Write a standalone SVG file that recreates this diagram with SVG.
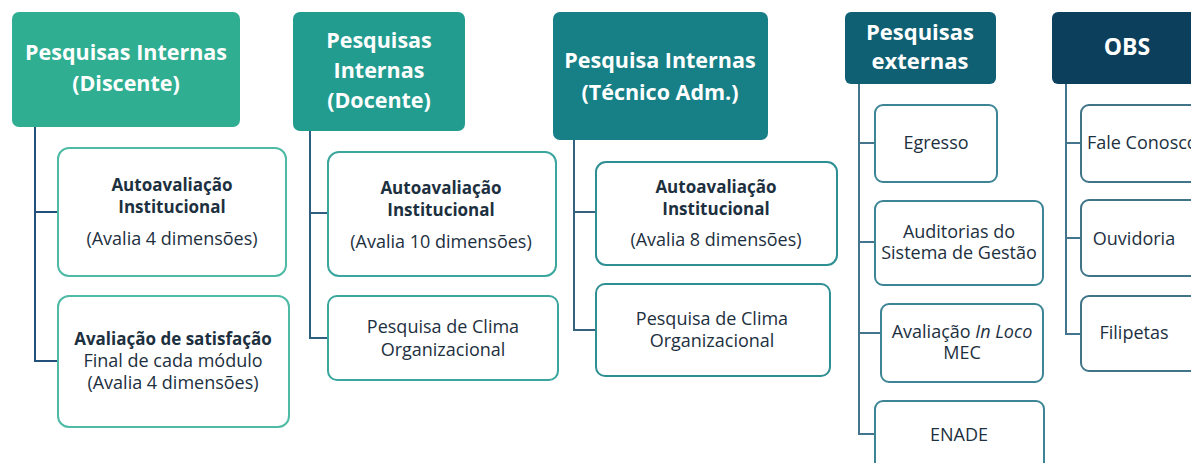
<svg xmlns="http://www.w3.org/2000/svg" width="1191" height="463" viewBox="0 0 1191 463">
<style>
.hd{font-family:"Open Sans","Noto Sans",sans-serif;font-weight:bold;fill:#ffffff;text-anchor:middle}
.t{font-family:"Open Sans","Noto Sans",sans-serif;font-size:18px;fill:#1d3040;text-anchor:middle}
.b{font-weight:bold;font-size:17px}
.box{fill:#ffffff;stroke-width:2}
.g1{stroke:#4fbaa6}
.g2{stroke:#3aa69e}
.g3{stroke:#2e8f93}
.g4{stroke:#3d8595}
.g5{stroke:#3f7489}
.ln{fill:none;stroke-width:2}
</style>
<rect width="1191" height="463" fill="#ffffff"/>
<g id="connectors">
<path class="ln" stroke="#23507a" d="M35 127 V361 H58 M35 212 H58"/>
<path class="ln" stroke="#2f5f80" d="M310 131 V338 H328 M310 213 H328"/>
<path class="ln" stroke="#35637f" d="M574 140 V330 H596 M574 212 H596"/>
<path class="ln" stroke="#45758c" d="M859 84 V434 H875 M859 143 H875 M859 242 H875 M859 333 H881"/>
<path class="ln" stroke="#45758c" d="M1066 84 V334 H1081 M1066 143 H1081 M1066 238 H1081"/>
</g>
<g id="h1"><rect x="12" y="12" width="228" height="115" rx="7" fill="#2fae92"/>
<text class="hd" font-size="21.5" x="126" y="60">Pesquisas Internas</text>
<text class="hd" font-size="21.5" x="126" y="91">(Discente)</text></g>
<g id="h2"><rect x="293" y="12" width="172" height="119" rx="7" fill="#239c90"/>
<text class="hd" font-size="21.5" x="379" y="48">Pesquisas</text>
<text class="hd" font-size="21.5" x="379" y="78">Internas</text>
<text class="hd" font-size="21.5" x="379" y="108">(Docente)</text></g>
<g id="h3"><rect x="553" y="12" width="215" height="128" rx="7" fill="#177f86"/>
<text class="hd" font-size="21.5" x="660" y="68">Pesquisa Internas</text>
<text class="hd" font-size="21.5" x="660" y="100">(Técnico Adm.)</text></g>
<g id="h4"><rect x="845" y="12" width="151" height="72" rx="6" fill="#0f6073"/>
<text class="hd" font-size="22" x="920" y="40">Pesquisas</text>
<text class="hd" font-size="22" x="920" y="69">externas</text></g>
<g id="h5"><rect x="1052" y="12" width="150" height="72" rx="6" fill="#0b3f5b"/>
<text class="hd" font-size="23" x="1127" y="55">OBS</text></g>

<g id="c1a"><rect class="box g1" x="58" y="148" width="228" height="128" rx="11"/>
<text class="t b" x="172" y="191">Autoavaliação</text>
<text class="t b" x="172" y="213">Institucional</text>
<text class="t" x="172" y="245">(Avalia 4 dimensões)</text></g>
<g id="c1b"><rect class="box g1" x="58" y="296" width="231" height="131" rx="11"/>
<text class="t b" x="173" y="345">Avaliação de satisfação</text>
<text class="t" x="173" y="367">Final de cada módulo</text>
<text class="t" x="173" y="389">(Avalia 4 dimensões)</text></g>
<g id="c2a"><rect class="box g2" x="328" y="152" width="228" height="124" rx="11"/>
<text class="t b" x="441" y="194">Autoavaliação</text>
<text class="t b" x="441" y="216">Institucional</text>
<text class="t" x="441" y="248">(Avalia 10 dimensões)</text></g>
<g id="c2b"><rect class="box g2" x="328" y="296" width="230" height="84" rx="9"/>
<text class="t" x="443" y="333">Pesquisa de Clima</text>
<text class="t" x="443" y="356">Organizacional</text></g>
<g id="c3a"><rect class="box g3" x="596" y="162" width="241" height="103" rx="10"/>
<text class="t b" x="716" y="193">Autoavaliação</text>
<text class="t b" x="716" y="215">Institucional</text>
<text class="t" x="716" y="246">(Avalia 8 dimensões)</text></g>
<g id="c3b"><rect class="box g3" x="596" y="284" width="234" height="92" rx="9"/>
<text class="t" x="712" y="325">Pesquisa de Clima</text>
<text class="t" x="712" y="347">Organizacional</text></g>
<g id="c4a"><rect class="box g4" x="875" y="105" width="122" height="77" rx="8"/>
<text class="t" x="936" y="149">Egresso</text></g>
<g id="c4b"><rect class="box g4" x="875" y="201" width="168" height="84" rx="8"/>
<text class="t" x="959" y="238">Auditorias do</text>
<text class="t" x="959" y="259">Sistema de Gestão</text></g>
<g id="c4c"><rect class="box g4" x="881" y="304" width="162" height="78" rx="8"/>
<text class="t" x="962" y="338">Avaliação <tspan font-style="italic">In Loco</tspan></text>
<text class="t" x="962" y="359">MEC</text></g>
<g id="c4d"><rect class="box g4" x="875" y="401" width="169" height="80" rx="8"/>
<text class="t" x="959" y="441">ENADE</text></g>
<g id="c5a"><rect class="box g5" x="1081" y="105" width="130" height="77" rx="8"/>
<text class="t" x="1087" y="149" style="text-anchor:start">Fale Conosco</text></g>
<g id="c5b"><rect class="box g5" x="1081" y="200" width="130" height="76" rx="8"/>
<text class="t" x="1134" y="245">Ouvidoria</text></g>
<g id="c5c"><rect class="box g5" x="1081" y="296" width="130" height="75" rx="8"/>
<text class="t" x="1134" y="339">Filipetas</text></g>
</svg>
